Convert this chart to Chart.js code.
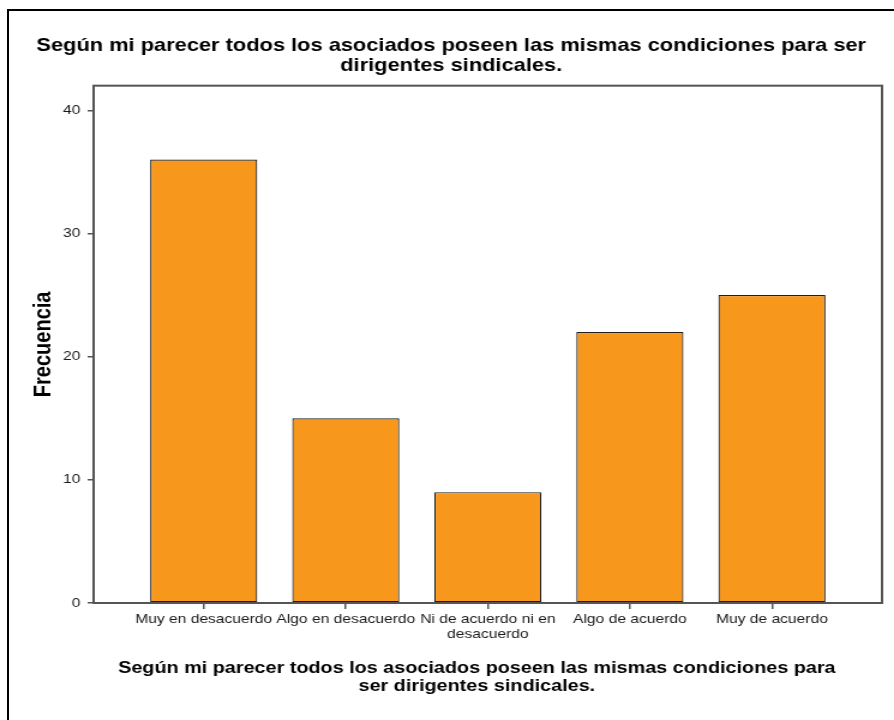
<!DOCTYPE html>
<html>
<head>
<meta charset="utf-8">
<script src="https://cdn.jsdelivr.net/npm/chart.js@4.4.1/dist/chart.umd.min.js"></script>
<style>
  html, body { margin: 0; padding: 0; background: #fff; overflow: hidden; width: 894px; height: 720px; }
  #marco { position: absolute; left: 7px; top: 9px; width: 1000px; height: 1000px; border-left: 2px solid #000; border-top: 2px solid #000; }
  /* the original picture is stretched sideways, so the canvas is too */
  #grafico { position: absolute; left: 0; top: 0; transform: scaleX(1.2); transform-origin: 0 0; }
</style>
</head>
<body>
<div id="marco"></div>
<canvas id="grafico" width="745" height="720"></canvas>
<script>
const titulo = ['Según mi parecer todos los asociados poseen las mismas condiciones para ser', 'dirigentes sindicales.'];
const tituloX = ['Según mi parecer todos los asociados poseen las mismas condiciones para    ', 'ser dirigentes sindicales.    '];
const categorias = ['Muy en desacuerdo', 'Algo en desacuerdo', ['Ni de acuerdo ni en', 'desacuerdo'], 'Algo de acuerdo', 'Muy de acuerdo'];
const frecuencias = [36, 15, 9, 22, 25];
const ticksY = [0, 10, 20, 30, 40];

const fuente = '"Liberation Sans", Arial, sans-serif';
const naranja = '#F7981D';
const gris = '#555555';

// marco gris alrededor del area de datos
const marcoArea = {
    id: 'marcoArea',
    afterDatasetsDraw(chart) {
        const a = chart.chartArea;
        const ctx = chart.ctx;
        ctx.save();
        ctx.strokeStyle = gris;
        ctx.lineWidth = 2;
        ctx.strokeRect(a.left, a.top, a.right - a.left, a.bottom - a.top);
        ctx.restore();
    }
};

const ctx = document.getElementById('grafico').getContext('2d');
const myChart = new Chart(ctx, {
    type: 'bar',
    data: {
        datasets: [{
            label: 'Frecuencia',
            data: frecuencias.map((v, i) => ({ x: i, y: v })),
            backgroundColor: naranja,
            borderColor: '#1e1e1e',
            borderWidth: 1.2,
            borderSkipped: false,
            barPercentage: 0.754,
            categoryPercentage: 1
        }]
    },
    options: {
        responsive: false,
        animation: false,
        layout: { padding: { left: 17, right: 10, top: 0, bottom: 0 } },
        plugins: {
            legend: { display: false },
            tooltip: { enabled: false },
            title: {
                display: true,
                text: titulo,
                color: '#000',
                font: { family: fuente, size: 18.2, weight: 'bold', lineHeight: 1.09 },
                padding: { top: 36, bottom: 10 }
            }
        },
        scales: {
            x: {
                type: 'linear',
                offset: false,
                min: -0.775,
                max: 4.775,
                afterBuildTicks: s => { s.ticks = categorias.map((c, i) => ({ value: i })); },
                afterFit: s => { s.height = 117; },
                border: { display: false },
                grid: { offset: false, drawOnChartArea: false, drawTicks: true, tickLength: 6, tickColor: gris, lineWidth: 1.5 },
                ticks: {
                    callback: v => categorias[v],
                    color: '#1a1a1a',
                    padding: 3,
                    maxRotation: 0,
                    autoSkip: false,
                    font: { family: fuente, size: 13, lineHeight: 1.15 }
                },
                title: {
                    display: true,
                    text: tituloX,
                    color: '#000',
                    font: { family: fuente, size: 16.5, weight: 'bold', lineHeight: 1.1 },
                    padding: { top: 0, bottom: 24 }
                }
            },
            y: {
                min: 0,
                max: 42,
                afterBuildTicks: s => { s.ticks = ticksY.map(v => ({ value: v })); },
                afterFit: s => { s.width = 61; },
                border: { display: false },
                grid: { drawOnChartArea: false, drawTicks: true, tickLength: 5, tickColor: gris, lineWidth: 1.5 },
                ticks: {
                    color: '#1a1a1a',
                    padding: 6,
                    font: { family: fuente, size: 13 }
                },
                title: {
                    display: true,
                    text: 'Frecuencia',
                    color: '#000',
                    font: { family: fuente, size: 20, weight: 'bold' },
                    padding: { top: 7, bottom: 0 }
                }
            }
        }
    },
    plugins: [marcoArea]
});
</script>
</body>
</html>
